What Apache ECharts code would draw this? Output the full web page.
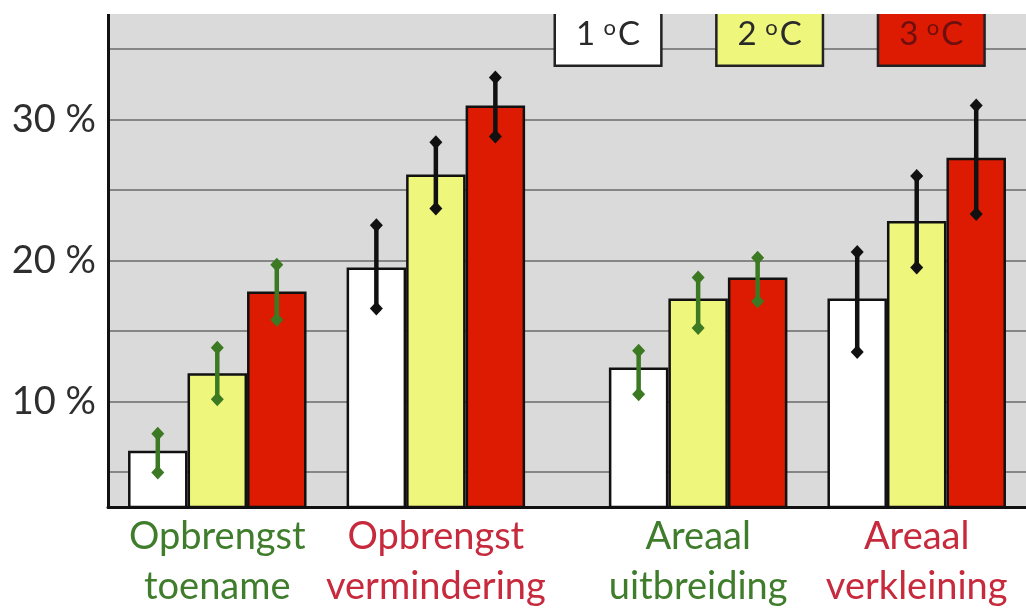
<!DOCTYPE html>
<html>
<head>
<meta charset="utf-8">
<script src="https://cdn.jsdelivr.net/npm/echarts@6/dist/echarts.min.js"></script>
<style>
html,body{margin:0;padding:0;background:#fff;}
#chart{width:1026px;height:610px;}
</style>
</head>
<body>
<div id="chart"></div>
<script>
// ---- data ----
const categories = ['Opbrengst\ntoename', 'Opbrengst\nvermindering', 'Areaal\nuitbreiding', 'Areaal\nverkleining'];
const seriesNames = ['1 °C', '2 °C', '3 °C'];
const values1C = [6.5, 19.5, 12.4, 17.3];
const values2C = [12.0, 26.1, 17.3, 22.8];
const values3C = [17.8, 31.0, 18.8, 27.3];
const errLow1C  = [4.95, 16.6, 10.5, 13.5];
const errHigh1C = [7.7, 22.5, 13.6, 20.6];
const errLow2C  = [10.15, 23.7, 15.2, 19.5];
const errHigh2C = [13.8, 28.4, 18.8, 26.0];
const errLow3C  = [15.8, 28.8, 17.1, 23.3];
const errHigh3C = [19.7, 33.0, 20.2, 31.0];
const yTickLabels = [10, 20, 30];

// ---- layout / style ----
const SLOT_COUNT = 21;
const SLOTS = [2, 7, 13, 18];          // band slot of each group on the category axis
const BAR_W = 59.5;
const barColors = ['#ffffff', '#eef67c', '#dd1a02'];
const legendTextColors = ['#2a2a2a', '#2a2a2a', '#6e0f0f'];
const groupKind = ['up', 'down', 'up', 'down'];
const kindColor = { up: '#3f7d2c', down: '#c62a3c' };
const errColor = { up: '#3b7a22', down: '#111111' };
const FONT = 'Lato, "Open Sans", sans-serif';

const slotLabels = new Array(SLOT_COUNT).fill('');
SLOTS.forEach((s, i) => { slotLabels[s] = categories[i]; });

function toSlots(arr) {
  const out = new Array(SLOT_COUNT).fill('-');
  SLOTS.forEach((s, i) => { out[s] = arr[i]; });
  return out;
}

const valueSets = [values1C, values2C, values3C];
const errSets = [[errLow1C, errHigh1C], [errLow2C, errHigh2C], [errLow3C, errHigh3C]];

const barSeries = valueSets.map((vals, k) => ({
  name: seriesNames[k],
  type: 'bar',
  data: toSlots(vals),
  barWidth: BAR_W,
  barGap: '0%',
  itemStyle: { color: barColors[k], borderColor: '#111', borderWidth: 2.5 },
  z: 2
}));

function diamond(cx, cy) {
  return [[cx, cy - 7], [cx + 6.5, cy], [cx, cy + 7], [cx - 6.5, cy]];
}

const errSeries = errSets.map((pair, k) => ({
  type: 'custom',
  name: 'err' + k,
  z: 5,
  data: SLOTS.map((s, i) => [s, pair[0][i], pair[1][i], i]),
  renderItem: function (params, api) {
    const x = api.value(0);
    const lo = api.coord([x, api.value(1)]);
    const hi = api.coord([x, api.value(2)]);
    const g = api.value(3);
    const cx = lo[0] + (k - 1) * BAR_W;
    const c = errColor[groupKind[g]];
    return {
      type: 'group',
      children: [
        { type: 'line', shape: { x1: cx, y1: lo[1], x2: cx, y2: hi[1] }, style: { stroke: c, lineWidth: 4.5 } },
        { type: 'polygon', shape: { points: diamond(cx, lo[1]) }, style: { fill: c } },
        { type: 'polygon', shape: { points: diamond(cx, hi[1]) }, style: { fill: c } }
      ]
    };
  }
}));

const rich = {
  up: { color: kindColor.up, fontSize: 38, fontFamily: FONT, lineHeight: 50, align: 'center' },
  down: { color: kindColor.down, fontSize: 38, fontFamily: FONT, lineHeight: 50, align: 'center' }
};

const chart = echarts.init(document.getElementById('chart'));
chart.setOption({
  animation: false,
  backgroundColor: '#ffffff',
  grid: {
    left: 108, top: 14, width: 924, bottom: 103,
    show: true, backgroundColor: '#dadada', borderWidth: 0,
    containLabel: false
  },
  legend: {
    left: 551, top: 0, padding: 0,
    itemWidth: 0, itemHeight: 0, itemGap: 50,
    icon: 'none',
    selectedMode: false,
    formatter: function (name) { return name.replace('°', '{o|o}'); },
    textStyle: {
      fontFamily: FONT, fontSize: 33, lineHeight: 36, color: '#333',
      borderColor: '#222', borderWidth: 2.5, padding: [14, 20, 12, 20],
      rich: { o: { fontSize: 22, fontFamily: FONT, lineHeight: 36, verticalAlign: 'top', padding: [0, 2, 12, 0] } }
    },
    data: seriesNames.map((n, k) => ({
      name: n,
      textStyle: { backgroundColor: barColors[k], color: legendTextColors[k] }
    }))
  },
  xAxis: {
    type: 'category',
    data: slotLabels,
    boundaryGap: true,
    axisLine: { show: true, lineStyle: { color: '#111', width: 3 } },
    axisTick: { show: false },
    splitLine: { show: false },
    axisLabel: {
      interval: 0,
      margin: 5,
      formatter: function (val, idx) {
        const gi = SLOTS.indexOf(idx);
        if (gi < 0) return '';
        const kind = groupKind[gi];
        return val.split('\n').map(l => '{' + kind + '|' + l + '}').join('\n');
      },
      rich: rich
    }
  },
  yAxis: {
    type: 'value',
    min: 2.5, max: 37.5, interval: 2.5,
    axisLine: { show: true, lineStyle: { color: '#111', width: 3 } },
    axisTick: { show: false },
    splitLine: { show: true, lineStyle: { color: ['rgba(0,0,0,0)', '#6a6a6a'], width: 1.5 } },
    axisLabel: {
      margin: 12,
      fontFamily: FONT, fontSize: 38, color: '#2e2e2e',
      formatter: function (v) {
        const r = Math.round(v * 100) / 100;
        return yTickLabels.indexOf(r) >= 0 ? r + ' %' : '';
      }
    }
  },
  graphic: [{
    type: 'rect', left: 0, top: 0, z: 1000,
    shape: { width: 1026, height: 14 },
    style: { fill: '#ffffff' }
  }],
  series: barSeries.concat(errSeries)
});
</script>
</body>
</html>
